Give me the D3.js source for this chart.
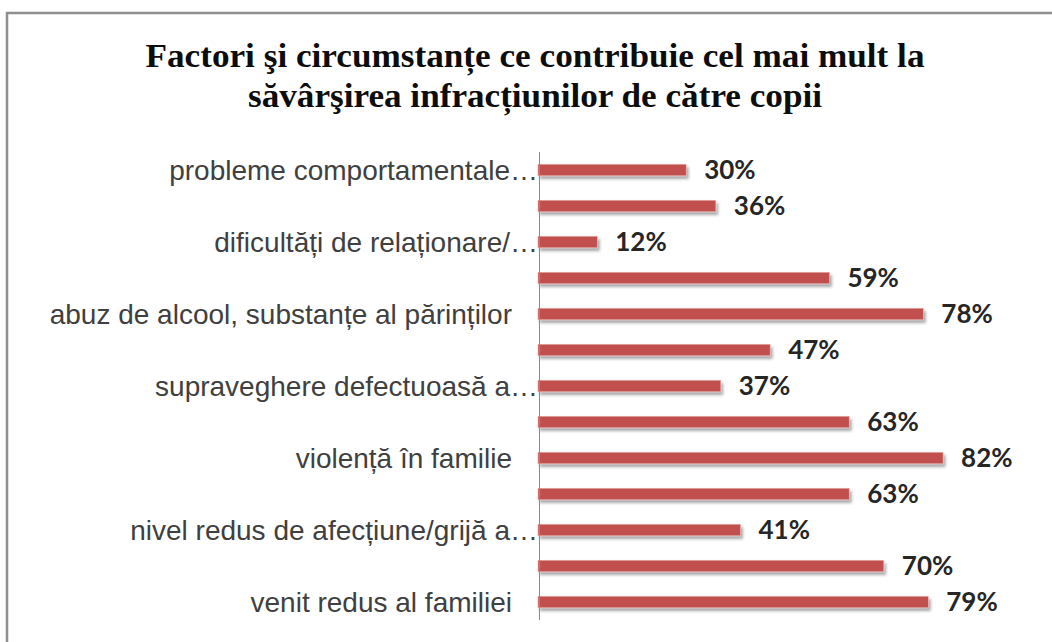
<!DOCTYPE html>
<html><head><meta charset="utf-8">
<script src="https://cdn.jsdelivr.net/npm/d3@7"></script>
<style>
html,body{margin:0;padding:0;background:#fff;}
svg{display:block;}
</style></head>
<body>
<svg id="chart" width="1052" height="642"></svg>
<script>
const titleLines = ["Factori şi circumstanțe ce contribuie cel mai mult la", "săvârşirea infracțiunilor de către copii"];
const categories = [
  "probleme comportamentale…", "",
  "dificultăți de relaționare/…", "",
  "abuz de alcool, substanțe al părinților", "",
  "supraveghere defectuoasă a…", "",
  "violență în familie", "",
  "nivel redus de afecțiune/grijă a…", "",
  "venit redus al familiei"
];
const values = [30, 36, 12, 59, 78, 47, 37, 63, 82, 63, 41, 70, 79];

const svg = d3.select("#chart");

const defs = svg.append("defs");
const f = defs.append("filter").attr("id","shadow").attr("x","-5%").attr("y","-50%").attr("width","115%").attr("height","250%");
f.append("feDropShadow").attr("dx",2).attr("dy",3).attr("stdDeviation",1.6).attr("flood-color","#000").attr("flood-opacity",0.35);

// frame
svg.append("rect").attr("x",7).attr("y",13).attr("width",1100).attr("height",700)
  .attr("fill","#fff").attr("stroke","#8f8f8f").attr("stroke-width",2.5);

// title
const titleFits = [779, 574];
svg.append("g").selectAll("text").data(titleLines).join("text")
  .attr("x", 535).attr("y", (d,i) => 67 + i*40)
  .attr("text-anchor","middle")
  .attr("font-family","'Liberation Serif','Times New Roman',serif")
  .attr("font-weight","bold").attr("font-size",33).attr("fill","#0d0d0d")
  .attr("textLength",(d,i)=>titleFits[i]).attr("lengthAdjust","spacingAndGlyphs")
  .text(d=>d);

const x = d3.scaleLinear().domain([0,100]).range([538, 1032]);
const y = d3.scaleBand().domain(d3.range(values.length)).range([152, 620]).paddingInner(0.68).paddingOuter(0.34);

// bars
svg.append("g").selectAll("rect").data(values).join("rect")
  .attr("x", x(0)).attr("y",(d,i)=>y(i)).attr("width",d=>x(d)-x(0)).attr("height",y.bandwidth())
  .attr("fill","#c0504d").attr("stroke","#e8b5b4").attr("stroke-width",0.6)
  .attr("filter","url(#shadow)");

// axis line
svg.append("line").attr("x1",539.5).attr("x2",539.5).attr("y1",152).attr("y2",620)
  .attr("stroke","#8a8a8a").attr("stroke-width",1);

// value labels
svg.append("g").selectAll("text").data(values).join("text")
  .attr("x", d=>x(d)+18).attr("y",(d,i)=>y(i)+y.bandwidth()/2)
  .attr("dy","0.36em")
  .attr("font-family","Lato,'Open Sans',sans-serif").attr("font-weight","bold")
  .attr("font-size",26).attr("fill","#262626")
  .text(d=>d+"%");

// category labels
svg.append("g").selectAll("text").data(categories).join("text")
  .attr("x", d => d.endsWith("…") ? 538 : 512)
  .attr("y",(d,i)=>y(i)+y.bandwidth()/2)
  .attr("dy","0.36em").attr("text-anchor","end")
  .attr("font-family","'Liberation Sans',Arial,sans-serif")
  .attr("font-size",28).attr("fill","#404040")
  .text(d=>d);
</script>
</body></html>
